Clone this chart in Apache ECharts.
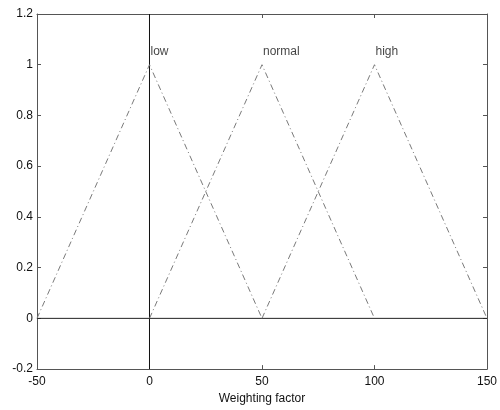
<!DOCTYPE html>
<html>
<head>
<meta charset="utf-8">
<script src="https://cdn.jsdelivr.net/npm/echarts@6/dist/echarts.min.js"></script>
<style>
  html, body { margin: 0; padding: 0; background: #fff; }
  #chart { width: 500px; height: 410px; }
</style>
</head>
<body>
<div id="chart"></div>
<script>
// Triangular membership functions for the weighting factor
const lowX = [-50, 0, 50];
const lowY = [0, 1, 0];
const normalX = [0, 50, 100];
const normalY = [0, 1, 0];
const highX = [50, 100, 150];
const highY = [0, 1, 0];

// Set names placed above each peak
const setNames = ['low', 'normal', 'high'];
const setNameX = [0, 50, 100];
const setNameY = [1.05, 1.05, 1.05];

// Reference axes drawn through the origin
const zeroLineX = [-50, 150];
const vertLineY = [-0.2, 1.2];

const xTicks = [-50, 0, 50, 100, 150];
const yTicks = [-0.2, 0, 0.2, 0.4, 0.6, 0.8, 1, 1.2];

function pairs(xs, ys) { return xs.map((x, i) => [x, ys[i]]); }

const fnStyle = { color: '#7a7a7a', width: 1, type: [6, 3, 1, 3] };
const font = 'Liberation Sans, Arial, sans-serif';

const chart = echarts.init(document.getElementById('chart'), null, { renderer: 'canvas' });

const axisCommon = {
  axisLine: { show: true, onZero: false, lineStyle: { color: '#555', width: 1 } },
  axisTick: { show: true, inside: true, length: 4, lineStyle: { color: '#555' } },
  splitLine: { show: false }
};

chart.setOption({
  animation: false,
  backgroundColor: '#fff',
  grid: { left: 37, right: 12, top: 14, bottom: 39 },
  xAxis: [
    Object.assign({
      type: 'value', min: xTicks[0], max: xTicks[xTicks.length - 1], interval: 50,
      position: 'bottom',
      name: 'Weighting factor', nameLocation: 'middle', nameGap: 22,
      nameTextStyle: { color: '#111', fontSize: 12, fontFamily: font },
      axisLabel: { color: '#111', fontSize: 12, fontFamily: font, margin: 7 }
    }, axisCommon),
    Object.assign({
      type: 'value', min: xTicks[0], max: xTicks[xTicks.length - 1], interval: 50,
      position: 'top', axisLabel: { show: false }
    }, axisCommon)
  ],
  yAxis: [
    Object.assign({
      type: 'value', min: yTicks[0], max: yTicks[yTicks.length - 1], interval: 0.2,
      position: 'left',
      axisLabel: {
        color: '#111', fontSize: 12, fontFamily: font, margin: 4,
        formatter: v => String(Math.round(v * 10) / 10)
      }
    }, axisCommon),
    Object.assign({
      type: 'value', min: yTicks[0], max: yTicks[yTicks.length - 1], interval: 0.2,
      position: 'right', axisLabel: { show: false }
    }, axisCommon)
  ],
  series: [
    {
      type: 'line', name: 'low', data: pairs(lowX, lowY),
      symbol: 'none', lineStyle: fnStyle, z: 3
    },
    {
      type: 'line', name: 'normal', data: pairs(normalX, normalY),
      symbol: 'none', lineStyle: fnStyle, z: 3
    },
    {
      type: 'line', name: 'high', data: pairs(highX, highY),
      symbol: 'none', lineStyle: fnStyle, z: 3
    },
    {
      type: 'line', data: pairs(zeroLineX, [0, 0]),
      symbol: 'none', lineStyle: { color: '#222', width: 1 }, z: 2
    },
    {
      type: 'line', data: pairs([0, 0], vertLineY),
      symbol: 'none', lineStyle: { color: '#111', width: 1 }, z: 2
    },
    {
      type: 'scatter', symbolSize: 0,
      data: setNames.map((n, i) => ({ name: n, value: [setNameX[i], setNameY[i]] })),
      label: {
        show: true, position: 'right', distance: 1,
        formatter: p => p.name,
        color: '#111', fontSize: 12, fontFamily: font
      },
      z: 4
    }
  ]
});
</script>
</body>
</html>
